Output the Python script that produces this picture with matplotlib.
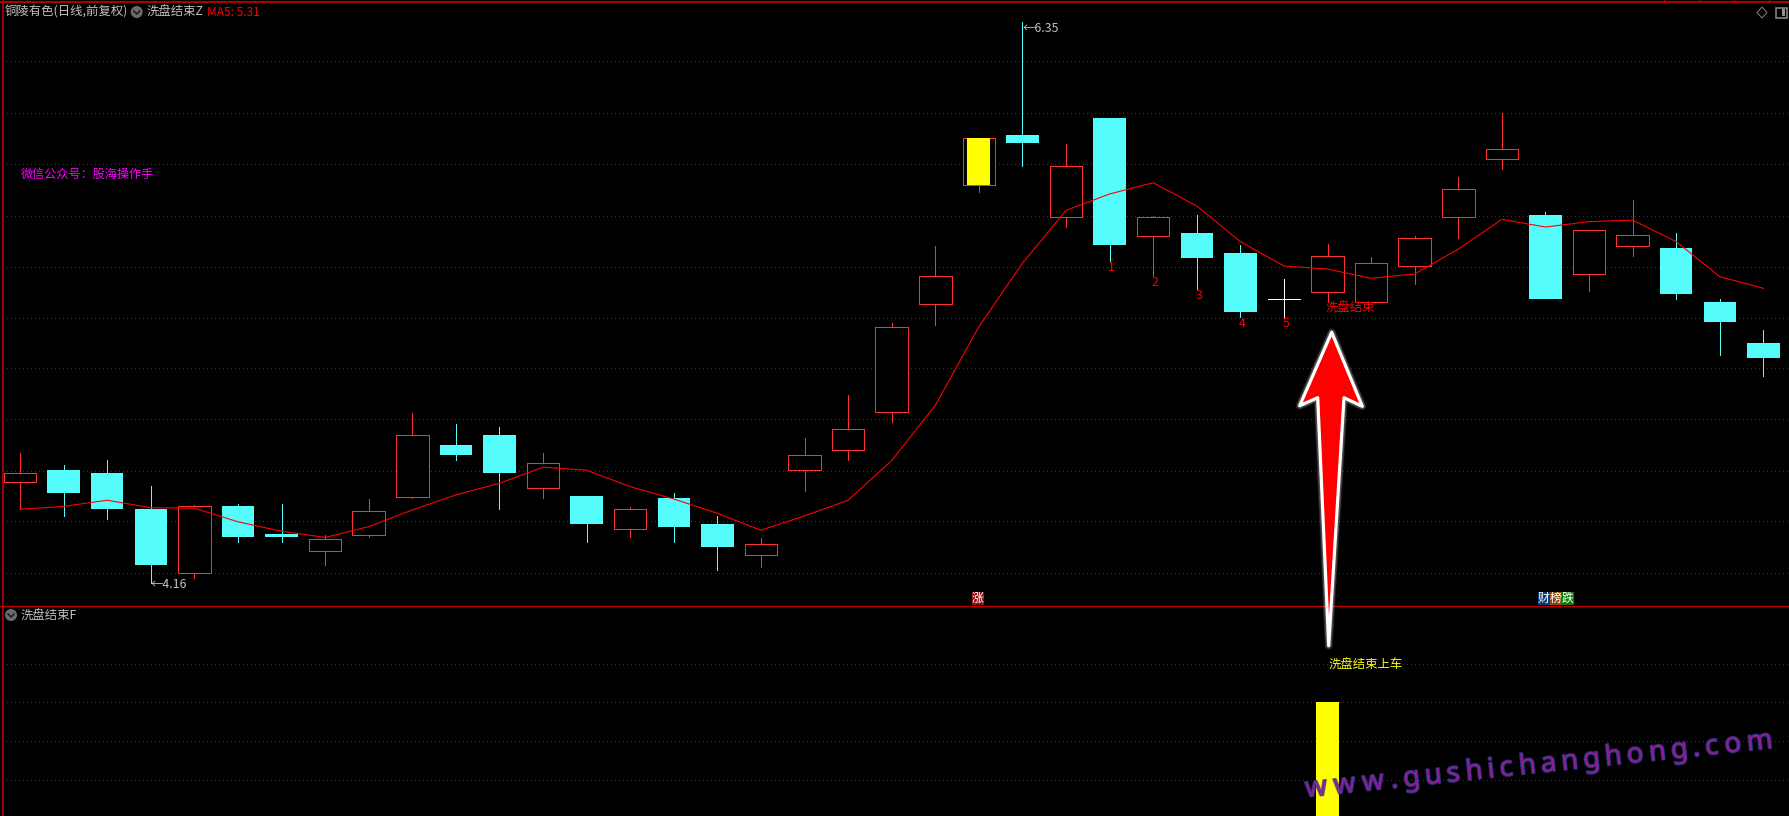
import matplotlib
matplotlib.use("Agg")
import matplotlib.pyplot as plt
import matplotlib.patheffects as pe
from matplotlib.patches import Circle, Polygon, Rectangle
from matplotlib.textpath import TextPath
from matplotlib.font_manager import FontProperties
import numpy as np

plt.rcParams["font.family"] = ["Noto Sans CJK SC", "DejaVu Sans"]

W, H = 1789, 816
PX = 0.72  # one pixel in points at dpi 100
FS = 8.9

# daily prices
opens = [4.556, 4.602, 4.590, 4.450, 4.199, 4.462, 4.352, 4.287, 4.350, 4.498,
         4.700, 4.739, 4.531, 4.501, 4.371, 4.493, 4.391, 4.269, 4.601, 4.679,
         4.827, 5.249, 5.715, 5.909, 5.588, 5.975, 5.516, 5.527, 5.449, 5.268,
         5.298, 5.256, 5.397, 5.588, 5.817, 5.597, 5.366, 5.477, 5.468, 5.258,
         5.098]
closes = [4.589, 4.513, 4.451, 4.233, 4.460, 4.342, 4.342, 4.332, 4.441, 4.737,
          4.662, 4.591, 4.628, 4.393, 4.449, 4.381, 4.303, 4.312, 4.659, 4.761,
          5.159, 5.358, 5.897, 5.879, 5.787, 5.481, 5.588, 5.430, 5.220, 5.268,
          5.436, 5.409, 5.506, 5.697, 5.856, 5.270, 5.537, 5.518, 5.290, 5.181,
          5.040]
highs = [4.668, 4.622, 4.641, 4.540, 4.465, 4.469, 4.469, 4.347, 4.489, 4.824,
         4.782, 4.770, 4.668, 4.501, 4.458, 4.512, 4.423, 4.337, 4.727, 4.895,
         5.174, 5.476, 5.897, 6.350, 5.874, 5.975, 5.593, 5.596, 5.480, 5.347,
         5.484, 5.433, 5.515, 5.744, 5.994, 5.609, 5.537, 5.655, 5.526, 5.268,
         5.148]
lows = [4.449, 4.424, 4.412, 4.160, 4.182, 4.322, 4.322, 4.233, 4.341, 4.493,
        4.641, 4.451, 4.494, 4.322, 4.342, 4.322, 4.213, 4.225, 4.521, 4.642,
        4.791, 5.169, 5.688, 5.789, 5.551, 5.419, 5.360, 5.309, 5.200, 5.200,
        5.258, 5.256, 5.329, 5.508, 5.778, 5.270, 5.302, 5.438, 5.270, 5.052,
        4.970]
ma5 = [4.449, 4.460, 4.484, 4.455, 4.453, 4.400, 4.363, 4.339, 4.381, 4.446,
       4.505, 4.550, 4.613, 4.601, 4.537, 4.489, 4.433, 4.367, 4.423, 4.484,
       4.639, 4.854, 5.161, 5.409, 5.615, 5.679, 5.723, 5.632, 5.493, 5.398,
       5.386, 5.350, 5.367, 5.464, 5.580, 5.550, 5.571, 5.577, 5.493, 5.356,
       5.311]

grid_main = [6.196, 5.996, 5.794, 5.594, 5.395, 5.197, 4.999, 4.800, 4.600, 4.402, 4.199]
grid_sub = [0.32, 0.655, 1.0, 1.33]

highlight_day = 22
signal_day = 30
signal_value = 1.0

count_days = [25, 26, 27, 28, 29]
count_prices = [5.394, 5.333, 5.282, 5.173, 5.173]
count_labels = ["1", "2", "3", "4", "5"]

RED = "#ff3232"
CYAN = "#54fcfc"
DIM = "#c00000"
GRID = "#b00000"
GRAY = "#c0c0c0"

fig = plt.figure(figsize=(W / 100, H / 100), dpi=100, facecolor="black")
ax = fig.add_axes([3 / W, (H - 606) / H, (W - 3) / W, 604 / H], facecolor="black")
sub = fig.add_axes([3 / W, 0, (W - 3) / W, (H - 606) / H], facecolor="black")
over = fig.add_axes([0, 0, 1, 1], facecolor="none")

for a in (ax, sub):
    a.set_xlim(-0.390, 40.587)
    a.set_xticks([])
    a.set_yticks([])
    for s in a.spines.values():
        s.set_visible(False)
ax.set_ylim(4.0714, 6.428)
sub.set_ylim(0, 1.842)
over.set_xlim(0, W)
over.set_ylim(H, 0)
over.axis("off")

dots = (0, (1, 3))
for g in grid_main:
    ax.axhline(g, color=GRID, lw=PX, ls=dots, antialiased=False, zorder=1)
for g in grid_sub:
    sub.axhline(g, color=GRID, lw=PX, ls=dots, antialiased=False, zorder=1)

BODY = 32.5 / 43.6
for i, (o, c, h, l) in enumerate(zip(opens, closes, highs, lows)):
    top, bot = max(o, c), min(o, c)
    if o == c:
        ax.vlines(i, l, h, color="white", lw=PX, antialiased=False, zorder=3)
        ax.hlines(o, i - BODY / 2, i + BODY / 2, color="white", lw=PX,
                  antialiased=False, zorder=3)
        continue
    col = RED if c > o else CYAN
    ax.vlines(i, top, h, color=col, lw=PX, antialiased=False, zorder=3)
    ax.vlines(i, l, bot, color=col, lw=PX, antialiased=False, zorder=3)
    if c > o:
        ax.add_patch(Rectangle((i - BODY / 2, bot), BODY, top - bot, fc="black", ec=RED,
                               lw=PX, antialiased=False, zorder=3))
    else:
        ax.add_patch(Rectangle((i - BODY / 2, bot), BODY, top - bot, fc=CYAN, ec="none",
                               antialiased=False, zorder=3))
    if i == highlight_day:
        ax.add_patch(Rectangle((i - 0.264, bot), 0.528, top - bot, fc="#ffff00", ec="none",
                               zorder=3.5))

ax.plot(range(len(ma5)), ma5, color="#ff0000", lw=PX * 1.1, zorder=4)

for d, p, t in zip(count_days, count_prices, count_labels):
    ax.text(d + 0.05, p, t, color="#ff0000", fontsize=FS, ha="center", va="center", zorder=5)

ax.text(signal_day - 0.04, 5.232, "洗盘结束", color="#ff0000", fontsize=FS, ha="left",
        va="center", zorder=5)
ax.annotate("←4.16", (3, lows[3]), xytext=(0, -0.8), textcoords="offset points",
            color=GRAY, fontsize=FS, ha="left", va="center", zorder=5)
ax.annotate("←6.35", (23, highs[23]), xytext=(0, -5), textcoords="offset points",
            color=GRAY, fontsize=FS, ha="left", va="center", zorder=5)

sub.bar([signal_day], [signal_value], width=0.54, color="#ffff00", zorder=3)
sub.text(signal_day + 0.03, 1.32, "洗盘结束上车", color="#ffff00", fontsize=FS, ha="left",
         va="center", zorder=5)

# frame lines
over.plot([2.5, 2.5], [0, H], color=DIM, lw=PX * 1.6, zorder=2)
over.plot([0, W], [2, 2], color=DIM, lw=PX * 1.8, zorder=2)
over.plot([0, W], [606.3, 606.3], color=DIM, lw=PX * 1.4, zorder=2)
for tx in [27, 1664, 1699, 1734, 1769]:
    over.plot([tx, tx], [0, 2], color=DIM, lw=PX, zorder=2)


def drop_icon(x, y):
    over.add_patch(Circle((x, y), 6, fc="#6a6a6a", ec="none", zorder=6))
    over.plot([x - 3, x, x + 3], [y - 1, y + 2, y - 1], color="#101010", lw=PX * 1.3, zorder=7)


# header
over.text(5, 12.5, "铜陵有色(日线,前复权)", color=GRAY, fontsize=8.9, ha="left", va="center", zorder=6)
drop_icon(136.7, 12)
over.text(146.5, 12.5, "洗盘结束Z", color=GRAY, fontsize=FS, ha="left", va="center", zorder=6)
over.text(207, 12.5, "MA5: 5.31", color="#ff0000", fontsize=8.6, ha="left", va="center", zorder=6)
over.text(21, 174, "微信公众号：股海操作手", color="#ff00ff", fontsize=8.7, ha="left", va="center", zorder=6)
drop_icon(11, 615)
over.text(20.5, 616, "洗盘结束F", color=GRAY, fontsize=FS, ha="left", va="center", zorder=6)

# top right icons
over.add_patch(Polygon([(1762, 7), (1767, 12.5), (1762, 18), (1757, 12.5)], fc="none", ec="#808080",
                       lw=PX, zorder=6))
over.add_patch(Rectangle((1775.5, 7.5), 11, 10, fc="none", ec="#909090", lw=PX * 1.5, zorder=6))
over.add_patch(Rectangle((1782, 9), 3, 7, fc="#909090", ec="none", zorder=6))

# small coloured tags sitting on the divider
badges = [(978, "涨", "#8c1414"), (1544, "财", "#0a3d78"), (1556, "榜", "#8a4a10"), (1568, "跌", "#0a7a0a")]
for bx, t, c in badges:
    over.add_patch(Rectangle((bx - 6, 592), 12, 12.5, fc=c, ec="none", zorder=6))
    over.text(bx, 598, t, color="white", fontsize=8.6, ha="center", va="center", zorder=7)

# big arrow
arrow = [(1331.7, 332.3), (1362.3, 406.3), (1344, 397.7), (1328.7, 645.7), (1317.7, 397.7), (1299.7, 405.7)]
for lw, al in [(8, 0.12), (6, 0.2)]:
    over.add_patch(Polygon(arrow, fc="none", ec="white", lw=lw * PX, alpha=al, joinstyle="round", zorder=8))
over.add_patch(Polygon(arrow, fc="#ff0000", ec="white", lw=PX * 3.2, joinstyle="round", zorder=9))

# watermark, letter by letter so the tracking can be opened up
mark = "www.gushichanghong.com"
fp = FontProperties(family="Noto Sans", size=20)
start = np.array([1306.0, 797.0])
angle = 6.0
direction = np.array([np.cos(np.radians(angle)), -np.sin(np.radians(angle))])
pos = 0.0
for ch in mark:
    width = TextPath((0, 0), ch, prop=fp).get_extents().x1 / PX
    p = start + direction * pos
    over.text(p[0], p[1], ch, color="#a01a98", alpha=0.75, fontproperties=fp, rotation=angle,
              rotation_mode="anchor", ha="left", va="baseline", zorder=10,
              path_effects=[pe.Stroke(linewidth=1.4, foreground="#2c3a90", alpha=0.8), pe.Normal()])
    pos += width + 7.1

fig.savefig("out.png", dpi=100, facecolor="black")
